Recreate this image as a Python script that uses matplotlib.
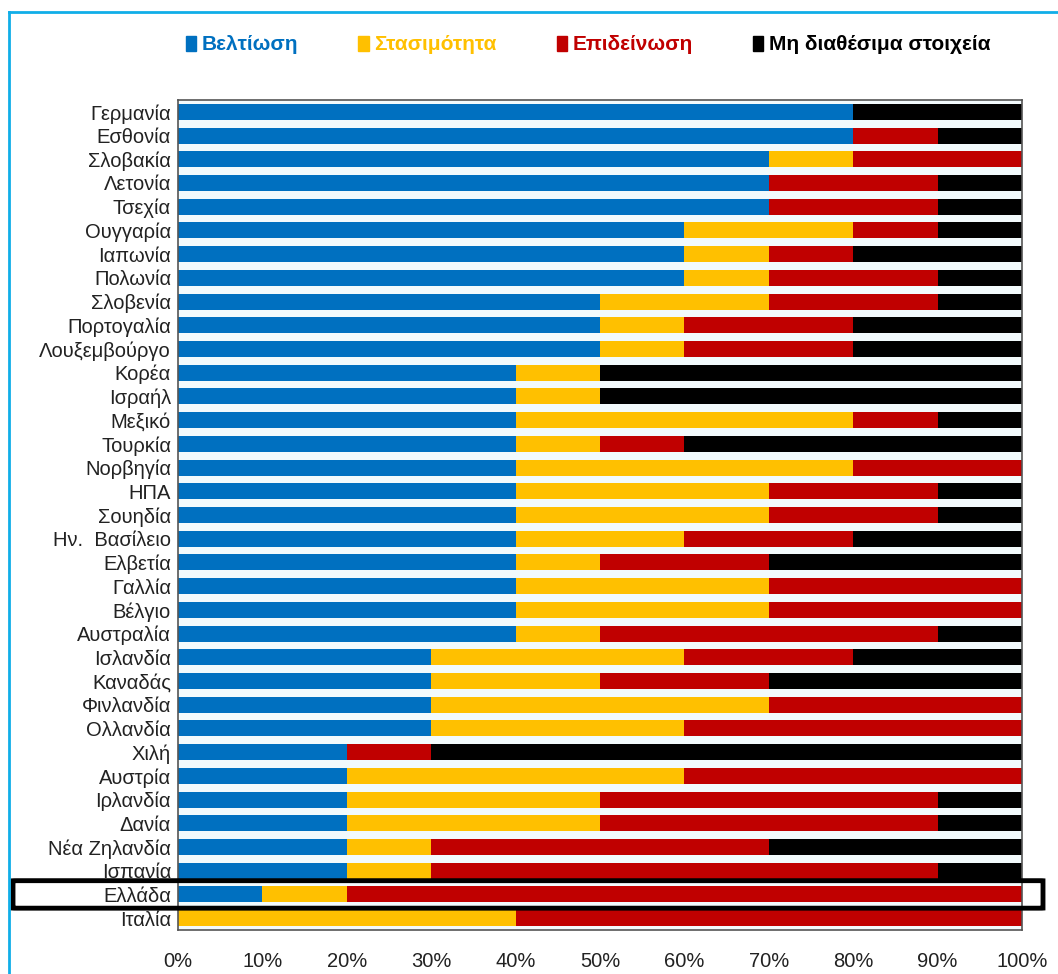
import numpy as np
import matplotlib
matplotlib.use("Agg")
import matplotlib.pyplot as plt
from matplotlib.patches import Patch, FancyBboxPatch
from matplotlib.lines import Line2D
import matplotlib.transforms as mtransforms

countries = ["Γερμανία", "Εσθονία", "Σλοβακία", "Λετονία", "Τσεχία", "Ουγγαρία",
             "Ιαπωνία", "Πολωνία", "Σλοβενία", "Πορτογαλία", "Λουξεμβούργο", "Κορέα",
             "Ισραήλ", "Μεξικό", "Τουρκία", "Νορβηγία", "ΗΠΑ", "Σουηδία",
             "Ην.  Βασίλειο", "Ελβετία", "Γαλλία", "Βέλγιο", "Αυστραλία", "Ισλανδία",
             "Καναδάς", "Φινλανδία", "Ολλανδία", "Χιλή", "Αυστρία", "Ιρλανδία",
             "Δανία", "Νέα Ζηλανδία", "Ισπανία", "Ελλάδα", "Ιταλία"]

improvement = [80, 80, 70, 70, 70, 60, 60, 60, 50, 50, 50, 40, 40, 40, 40, 40, 40, 40,
               40, 40, 40, 40, 40, 30, 30, 30, 30, 20, 20, 20, 20, 20, 20, 10, 0]
stagnation = [0, 0, 10, 0, 0, 20, 10, 10, 20, 10, 10, 10, 10, 40, 10, 40, 30, 30,
              20, 10, 30, 30, 10, 30, 20, 40, 30, 0, 40, 30, 30, 10, 10, 10, 40]
deterioration = [0, 10, 20, 20, 20, 10, 10, 20, 20, 20, 20, 0, 0, 10, 10, 20, 20, 20,
                 20, 20, 30, 30, 40, 20, 20, 30, 40, 10, 40, 40, 40, 40, 60, 80, 60]
not_available = [20, 10, 0, 10, 10, 10, 20, 10, 10, 20, 20, 50, 50, 10, 40, 0, 10, 10,
                  20, 30, 0, 0, 10, 20, 30, 0, 0, 70, 0, 10, 10, 30, 10, 0, 0]

series_names = ["Βελτίωση", "Στασιμότητα", "Επιδείνωση", "Μη διαθέσιμα στοιχεία"]
colors = ["#0070C0", "#FFC000", "#C00000", "#000000"]
xticks = [0, 10, 20, 30, 40, 50, 60, 70, 80, 90, 100]
xtick_labels = ["0%", "10%", "20%", "30%", "40%", "50%", "60%", "70%", "80%", "90%", "100%"]
highlight = "Ελλάδα"

plt.rcParams['font.family'] = ['Liberation Sans', 'DejaVu Sans']

W, H = 1058, 974
fig = plt.figure(figsize=(W / 100, H / 100), dpi=100)
fig.patch.set_facecolor("white")
ax = fig.add_axes([178 / W, 1 - 930 / H, (1022 - 178) / W, (930 - 100) / H])
ax.set_facecolor("#F2FAFC")

y = np.arange(len(countries))
left = np.zeros(len(countries))
for vals, col, name in zip([improvement, stagnation, deterioration, not_available], colors, series_names):
    vals = np.array(vals, dtype=float)
    ax.barh(y, vals, left=left, height=0.68, color=col, label=name, linewidth=0)
    left += vals

ax.set_xlim(0, 100)
ax.set_ylim(len(countries) - 0.5, -0.5)
ax.set_yticks(y)
ax.set_yticklabels(countries, fontsize=14.5, color="#222222")
ax.set_xticks(xticks)
ax.set_xticklabels(xtick_labels, fontsize=14.5, color="#222222")
ax.tick_params(axis="both", length=0)
ax.tick_params(axis="y", pad=5)
ax.tick_params(axis="x", pad=16)
for s in ax.spines.values():
    s.set_color("#555555")
    s.set_linewidth(1.2)

# highlight box around Greece
gi = countries.index(highlight)
trans = mtransforms.blended_transform_factory(fig.transFigure, ax.transData)
box = FancyBboxPatch((13 / W, gi - 0.58), (1043 - 13) / W, 1.16,
                     boxstyle="round,pad=0,rounding_size=0.004",
                     transform=trans, fill=False, edgecolor="black",
                     linewidth=3.5, clip_on=False, zorder=10)
ax.add_patch(box)

# legend
handles = [Patch(facecolor=c, edgecolor=c) for c in colors]
leg = fig.legend(handles, series_names, loc="center", bbox_to_anchor=(588 / W, 1 - 45 / H),
                 ncol=4, frameon=False, handlelength=0.5, handleheight=0.7,
                 handletextpad=0.25, columnspacing=2.9,
                 prop={"weight": "bold", "size": 15}, labelcolor=colors)

# outer cyan frame (left and top)
fig.add_artist(Line2D([9 / W, 9 / W], [0, 1 - 12 / H], transform=fig.transFigure,
                      color="#10AEE8", linewidth=2))
fig.add_artist(Line2D([9 / W, 1], [1 - 12 / H, 1 - 12 / H], transform=fig.transFigure,
                      color="#10AEE8", linewidth=2))

fig.savefig("out.png", dpi=100)
